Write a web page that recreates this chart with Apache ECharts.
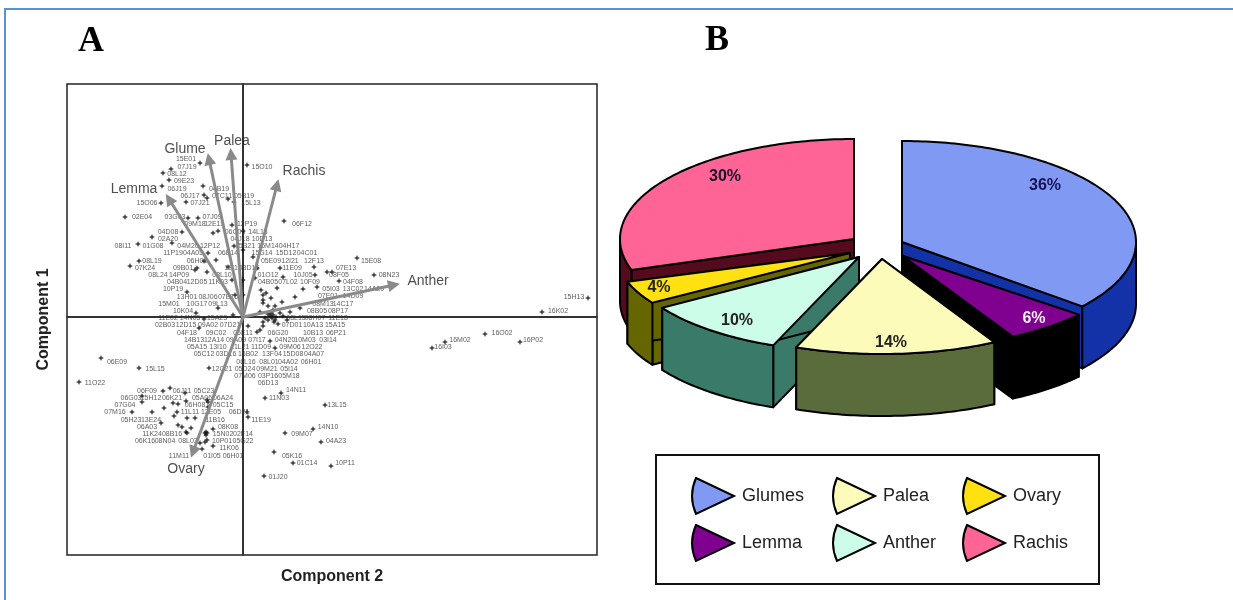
<!DOCTYPE html>
<html>
<head>
<meta charset="utf-8">
<style>html,body{margin:0;padding:0;background:#fff}#c{width:1233px;height:600px}</style>
<script src="https://cdn.jsdelivr.net/npm/echarts@6/dist/echarts.min.js"></script>
</head>
<body>
<div id="c"></div>
<script>
// ---------- Panel A data (component scores, x100) ----------
const sampleLabels = [
['15E01',-57,158],['07J19',-56,150],['08L12',-66,143],['09E23',-59,136],['06J19',-66,128],['04B19',-24,128],['06J17',-53,121],['07C11',-21,121],['05B19',1,121],['15O10',19,150],['15O06',-96,114],['07J21',-43,114],['15L13',8,114],['02E04',-101,100],['03G03',-68,100],['07J09',-31,100],['09M18',-48,93],['12E11',-29,93],['12P19',4,93],['06F12',59,93],['04D08',-75,85],['06C05',-8,85],['14L13',15,85],['02A20',-75,78],['04J18',-3,78],['10D13',19,78],['08I11',-120,71],['01G08',-90,71],['04M20',-55,71],['12P12',-33,71],['15B21',2,71],['15M14',25,71],['04H17',46,71],
['11P19',-70,64],['04A05',-50,64],['06E14',-15,64],['15G14',19,64],['15D12',43,64],['04C01',64,64],['08L19',-91,56],['06H01',-46,56],['05E09',28,56],['12I21',47,56],['12F13',71,56],['15E08',128,56],['07K24',-98,49],['09B01',-60,49],['12I15',-10,49],['08D15',6,49],['11E09',49,49],['07E13',103,49],['08N23',146,42],['08F05',96,42],['08L24',-85,42],['14P09',-64,42],['08L10',-21,42],['01O12',25,42],['10J05',60,42],['04B04',-66,35],['12D05',-46,35],['11K03',-25,35],['04B05',25,35],['07L02',45,35],['10F09',67,35],['04F08',110,35],['10P19',-70,28],['05I03',88,28],['13C02',110,28],['14A20',131,28],['13H01',-56,20],['08J06',-35,20],['07B16',-15,20],['07E01',85,21],['14D09',110,21],['15M01',-74,13],['10G17',-46,13],['09L13',-25,13],['08M13',80,13],['14C17',100,13],['10K04',-60,6],['08B05',74,6],['08P17',95,6],
['11E02',-75,-1],['14N05',-53,-1],['15A23',-26,-1],['08L15',53,-1],['08H07',72,-1],['11E18',95,-1],['02B03',-78,-8],['12D15',-57,-8],['09A02',-35,-8],['07D21',-13,-8],['07D01',49,-8],['10A13',70,-8],['15A15',92,-8],['04F18',-56,-16],['09C02',-27,-16],['05E11',0,-16],['06G20',35,-16],['10B13',70,-16],['06P21',93,-16],['14B13',-49,-23],['12A14',-29,-23],['09A09',-7,-23],['07I17',14,-23],['04N20',42,-23],['10M03',62,-23],['03I14',85,-23],['05A15',-46,-30],['13I10',-25,-30],['11L21',-3,-30],['11D09',18,-30],['09M06',47,-30],['12O22',69,-30],['05C12',-39,-37],['03D16',-17,-37],['15B02',5,-37],['13F04',29,-37],['15D08',50,-37],['04A07',71,-37],['06L16',3,-45],['08L01',26,-45],['04A02',45,-45],['06H01',68,-45],['06E09',-126,-45],['15L15',-88,-52],['12C21',-21,-52],['05D24',2,-52],['09M21',24,-52],['05I14',46,-52],['07M06',2,-59],['03P16',25,-59],['05M18',46,-59],['06D13',25,-66],['11O22',-148,-66],['14N11',53,-73],['06F09',-96,-74],['06J11',-61,-74],['05C23',-39,-74],['11N03',36,-81],['06G03',-112,-81],['15H12',-92,-81],['06K21',-71,-81],['05A06',-41,-81],['06A24',-20,-81],['07G04',-118,-88],['06H08',-48,-88],['05C15',-20,-88],['13L15',94,-88],['07M16',-128,-95],['11L11',-53,-95],['12E05',-32,-95],['06D21',-4,-95],['05H23',-112,-103],['13E24',-92,-103],['11B16',-28,-103],['11E19',18,-103],['06A03',-96,-110],['08K08',-15,-110],['14N10',85,-110],['11K24',-91,-117],['08B16',-71,-117],['15N02',-20,-117],['02F14',0,-117],['09M07',59,-117],['06K16',-98,-124],['08N04',-78,-124],['08L03',-55,-124],['10P01',-21,-124],['05G22',0,-124],['04A23',93,-124],['11K06',-14,-131],['11M11',-64,-139],['01I05',-31,-139],['06H01',-10,-139],['05K16',49,-139],['01C14',64,-146],['10P11',102,-146],['01J20',35,-160],
['15H13',331,20],['16K02',315,6],['16O02',259,-16],['16P02',290,-23],['16M02',217,-23],['16I03',200,-30]
];
const starPoints = [
[-43,154],[-72,148],[-80,144],[-74,137],[-81,131],[-40,131],[-39,122],[-36,119],[-15,118],[-9,115],[4,152],[-82,114],[-57,115],[-118,100],[-55,99],[-45,99],[41,96],[-11,92],[0,86],[-25,86],[-30,84],[-61,85],[-91,80],[-71,74],[-105,73],[-9,71],[-35,64],[-104,56],[-39,56],[-27,57],[-113,51],[10,60],[-48,47],[-46,49],[-36,45],[-15,50],[14,49],[37,49],[72,42],[84,45],[89,45],[40,40],[12,39],[-11,37],[-56,25],[18,27],[34,29],[60,28],[20,22],[28,19],[39,15],[52,20],[20,17],[-8,22],[-25,9],[-47,4],[-10,2],[-39,-2],[-44,-11],[5,-9],[17,-13],[14,-15],[27,-24],[32,-31],[-142,-41],[-104,-51],[-34,-51],[-164,-65],[-80,-74],[-73,-71],[-101,-79],[22,-81],[38,-76],[82,-88],[-58,-76],[-36,-83],[-70,-86],[-65,-87],
[114,59],[131,42],[96,36],[71,50],[74,30],[23,24],[20,14],[17,5],[27,1],[30,2],[29,-1],[25,-3],[22,-1],[32,-3],[37,4],[40,1],[20,-5],[30,7],[33,0],[28,4],[25,3],[31,-5],[35,-7],[47,5],[57,9],[25,11],[44,-3],[20,-9],[32,11],
[-111,-95],[-91,-95],[-69,-99],[-66,-95],[-79,-91],[-82,-106],[-56,-101],[-48,-101],[-65,-108],[-61,-110],[-52,-111],[-57,-115],[-56,-116],[-37,-115],[-37,-118],[-36,-116],[-38,-116],[-30,-112],[-43,-126],[-38,-125],[-36,-123],[-30,-129],[-41,-132],[5,-100],[4,-95],[70,-112],[42,-116],[78,-125],[31,-135],[50,-146],[88,-149],[21,-159],[-35,-85],[-35,-90],[-57,-84],[-101,-85],[345,19],[299,5],[242,-17],[277,-25],[202,-25],[189,-31],[0,67],[0,37],[0,22]
];
const arrowNames = ['Glume','Palea','Rachis','Lemma','Anther','Ovary'];
const arrowTips = [[-34,158],[-12,163],[34,132],[-74,118],[151,32],[-50,-135]];
const arrowLabelAt = [[-58,168],[-11,176],[61,146],[-109,128],[185,36],[-57,-152]];

// ---------- Panel B data ----------
const pieCategories = ['Glumes','Lemma','Palea','Anther','Ovary','Rachis'];
const pieValues = [36,6,14,10,4,30];

// ---------- Panel B styling ----------
const topColors  = ['#8099f2','#80008f','#fdfbba','#ccfde9','#ffe010','#ff6496'];
const sideColors = ['#1432a8','#000000','#5a6b3c','#3a7a68','#666600','#560a1e'];
const textColors = ['#14145a','#f4eef4','#222222','#222222','#222222','#1c1028'];
const drawOrder  = [5,0,4,1,3,2];
// each slice's exploded apex and ellipse radii on the page
const sliceFrame = [[902,242,234,101],[903,256,228,92],[882,259,233,95],[859,257,233,95],[850,253,234,93],[854,239,234,100]];
const labelShift = [[143,-56],[131,63],[9,84],[-122,64],[-191,35],[-129,-62]];
const depth = 62;
const legendSlots = {Glumes:[691,477],Palea:[832,477],Ovary:[962,477],Lemma:[691,524],Anther:[832,524],Rachis:[962,524]};
const wedgeIcon = 'path://M4 0L42 18L4 36Q-4 18 4 0Z';

const total = pieValues.reduce((a,b)=>a+b,0);
const startDeg = pieValues.map((_,i)=>pieValues.slice(0,i).reduce((a,b)=>a+b,0)/total*360);

function pt(f,deg,dy){const r=deg*Math.PI/180;return [f[0]+f[2]*Math.sin(r),f[1]-f[3]*Math.cos(r)+(dy||0)];}
function arc(f,a,b,dy){const o=[];const n=Math.max(2,Math.ceil(Math.abs(b-a)));for(let k=0;k<=n;k++)o.push(pt(f,a+(b-a)*k/n,dy));return o;}

function sliceRender(i){
  return function(){
    const f=sliceFrame[i],a=startDeg[i],b=a+pieValues[i]/total*360,line={stroke:'#000',lineWidth:2,lineJoin:'round'};
    const apex=[f[0],f[1]],apexLow=[f[0],f[1]+depth],kids=[];
    const wall=d=>{const p=pt(f,d);return [apex,p,[p[0],p[1]+depth],apexLow];};
    kids.push({type:'polygon',shape:{points:wall(a)},style:Object.assign({fill:sideColors[i]},line)});
    kids.push({type:'polygon',shape:{points:wall(b)},style:Object.assign({fill:sideColors[i]},line)});
    const fa=Math.max(a,90),fb=Math.min(b,270);
    if(fb>fa){
      const up=arc(f,fa,fb,0),low=arc(f,fb,fa,depth);
      kids.push({type:'polygon',shape:{points:up.concat(low)},style:Object.assign({fill:sideColors[i]},line)});
    }
    kids.push({type:'polygon',shape:{points:[apex].concat(arc(f,a,b,0))},style:Object.assign({fill:topColors[i]},line)});
    kids.push({type:'text',style:{text:pieValues[i]+'%',x:f[0]+labelShift[i][0],y:f[1]+labelShift[i][1],align:'center',verticalAlign:'middle',font:'bold 16px "Liberation Sans",Arial,sans-serif',fill:textColors[i]}});
    return {type:'group',children:kids};
  };
}

const sans='"Liberation Sans",Arial,sans-serif';
const noAxisBits={axisLabel:{show:false},axisTick:{show:false},splitLine:{show:false}};

const option={
  animation:false,
  backgroundColor:'#fff',
  grid:{left:67,right:636,top:84,bottom:45,show:true,borderColor:'#222',borderWidth:1.5,containLabel:false,outerBoundsMode:'none'},
  xAxis:Object.assign({type:'value',min:-176,max:354,name:'Component 2',nameLocation:'middle',nameGap:14,
    nameTextStyle:{fontWeight:'bold',fontSize:16,fontFamily:sans,color:'#222'},
    axisLine:{onZero:true,lineStyle:{color:'#333',width:2}}},noAxisBits),
  yAxis:Object.assign({type:'value',min:-238,max:233,name:'Component 1',nameLocation:'middle',nameGap:15,
    nameTextStyle:{fontWeight:'bold',fontSize:16,fontFamily:sans,color:'#222'},
    axisLine:{onZero:true,lineStyle:{color:'#333',width:2}}},noAxisBits),
  legend:pieCategories.map(name=>({
    data:[name],left:legendSlots[name][0],top:legendSlots[name][1],icon:wedgeIcon,padding:0,
    itemWidth:42,itemHeight:36,selectedMode:false,
    itemStyle:{borderColor:'#000',borderWidth:2},
    textStyle:{fontFamily:sans,fontSize:18,color:'#222',padding:[2,0,0,3]}
  })),
  graphic:[
    {type:'rect',z:-1,shape:{x:5,y:9,width:1300,height:700},style:{fill:'none',stroke:'#5b8fd8',lineWidth:2}},
    {type:'rect',z:-1,shape:{x:656,y:455,width:443,height:129},style:{fill:'#fff',stroke:'#111',lineWidth:2}},
    {type:'text',left:78,top:24,style:{text:'A',font:'bold 36px "Liberation Serif",serif',fill:'#000'}},
    {type:'text',left:705,top:23,style:{text:'B',font:'bold 36px "Liberation Serif",serif',fill:'#000'}}
  ],
  series:[
    {type:'scatter',name:'samples',symbol:'path://M5 0L6.5 3.5L10 5L6.5 6.5L5 10L3.5 6.5L0 5L3.5 3.5Z',symbolSize:6,itemStyle:{color:'#111'},data:starPoints,z:3},
    {type:'scatter',name:'sampleLabels',symbolSize:1,itemStyle:{color:'transparent'},z:4,
      data:sampleLabels.map(r=>({value:[r[1],r[2]],name:r[0]})),
      label:{show:true,position:'inside',formatter:'{b}',fontFamily:sans,fontSize:7,color:'#333'}},
    {type:'lines',name:'loadings',coordinateSystem:'cartesian2d',z:5,symbol:['none','triangle'],symbolSize:12,
      lineStyle:{color:'#8a8a8a',width:3,opacity:1,curveness:0},
      data:arrowTips.map(t=>({coords:[[0,0],t]}))},
    {type:'scatter',name:'loadingLabels',symbolSize:1,itemStyle:{color:'transparent'},z:6,
      data:arrowNames.map((n,i)=>({value:arrowLabelAt[i],name:n})),
      label:{show:true,position:'inside',formatter:'{b}',fontFamily:sans,fontSize:14,color:'#222'}}
  ].concat(drawOrder.map((i,k)=>({
    type:'custom',name:pieCategories[i],coordinateSystem:'none',z:10+k,
    itemStyle:{color:topColors[i]},data:[[pieValues[i]]],renderItem:sliceRender(i)
  })))
};
echarts.init(document.getElementById('c'),null,{renderer:'canvas'}).setOption(option);
</script>
</body>
</html>
